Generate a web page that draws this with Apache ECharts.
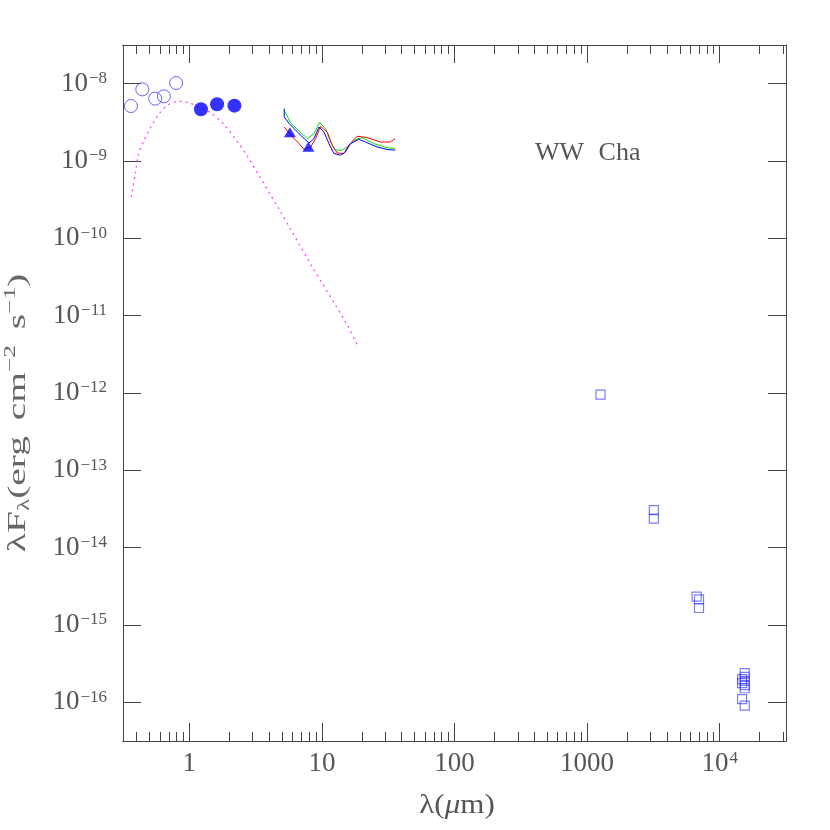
<!DOCTYPE html>
<html><head><meta charset="utf-8">
<script src="https://cdn.jsdelivr.net/npm/echarts@6/dist/echarts.min.js"></script>
<style>html,body{margin:0;padding:0;background:#fff}#c{width:830px;height:830px}</style>
</head><body><div id="c"></div>
<script>
// tick values / labels
const xMajorTicks = [1, 10, 100, 1000, 10000];
const xMinorTicks = [0.4, 0.5, 0.6, 0.7, 0.8, 0.9,
  2, 3, 4, 5, 6, 7, 8, 9,
  20, 30, 40, 50, 60, 70, 80, 90,
  200, 300, 400, 500, 600, 700, 800, 900,
  2000, 3000, 4000, 5000, 6000, 7000, 8000, 9000,
  20000, 30000];
const yMajorTicks = [1e-16, 1e-15, 1e-14, 1e-13, 1e-12, 1e-11, 1e-10, 1e-9, 1e-8];

// optical photometry (open circles)
const optWave = [0.363, 0.442, 0.553, 0.643, 0.795];
const optFlux = [5.14e-9, 8.44e-9, 6.40e-9, 6.86e-9, 1.02e-8];
// near-IR photometry (filled circles)
const nirWave = [1.224, 1.62, 2.19];
const nirFlux = [4.66e-9, 5.41e-9, 5.20e-9];
// IRAC (triangles)
const iracWave = [5.74, 7.91];
const iracFlux = [2.36e-9, 1.53e-9];
// mm / cm (squares)
const mmWave = [1263, 3187, 3187, 6699, 6982, 6982, 15455, 15455, 14750, 15455, 14750, 15455, 15455, 14750, 15455];
const mmFlux = [9.5e-13, 3.05e-14, 2.37e-14, 2.33e-15, 2.15e-15, 1.66e-15, 2.39e-16, 2.14e-16, 2.0e-16, 1.90e-16, 1.77e-16, 1.67e-16, 1.52e-16, 1.10e-16, 9.05e-17];
// photosphere model (dotted)
const modelWave = [0.365, 0.392, 0.412, 0.450, 0.507, 0.582, 0.681, 0.823, 0.962, 1.20, 1.43, 1.79, 2.32, 2.71, 4.79, 8.47, 15.2, 18.4];
const modelFlux = [3.41e-10, 6.97e-10, 1.19e-9, 1.75e-9, 2.65e-9, 3.90e-9, 5.25e-9, 5.91e-9, 5.74e-9, 4.94e-9, 4.26e-9, 3.08e-9, 1.75e-9, 1.19e-9, 2.32e-10, 4.26e-11, 8.1e-12, 4.26e-12];
// IRS spectra
const blueWave = [5.20, 5.20, 5.67, 6.54, 7.34, 8.00, 8.72, 9.51, 10.37, 11.30, 12.32, 13.81, 15.06, 16.42, 18.98, 21.28, 26.04, 30.94, 35.72];
const blueFlux = [4.76e-9, 3.71e-9, 3.05e-9, 2.37e-9, 1.95e-9, 1.71e-9, 1.95e-9, 2.75e-9, 2.37e-9, 1.68e-9, 1.25e-9, 1.19e-9, 1.31e-9, 1.68e-9, 1.91e-9, 1.76e-9, 1.52e-9, 1.41e-9, 1.38e-9];
const redWave = [5.20, 6.00, 6.73, 7.34, 8.23, 8.97, 9.78, 10.98, 11.97, 13.05, 14.65, 15.97, 18.44, 21.91, 27.56, 32.77, 35.72];
const redFlux = [2.75e-9, 2.05e-9, 1.68e-9, 1.41e-9, 1.52e-9, 1.95e-9, 2.81e-9, 2.37e-9, 1.60e-9, 1.27e-9, 1.25e-9, 1.60e-9, 2.09e-9, 2.01e-9, 1.76e-9, 1.76e-9, 1.95e-9];
const greenWave = [5.20, 5.82, 6.73, 7.77, 8.72, 9.61, 10.66, 11.62, 12.67, 14.22, 15.51, 17.41, 20.10, 24.59, 30.94, 35.72];
const greenFlux = [4.52e-9, 3.10e-9, 2.44e-9, 1.95e-9, 2.26e-9, 3.14e-9, 2.63e-9, 1.76e-9, 1.38e-9, 1.38e-9, 1.52e-9, 1.85e-9, 2.01e-9, 1.68e-9, 1.49e-9, 1.45e-9];

const zip = (a, b) => a.map((v, i) => [v, b[i]]);

const AX = '#444';
const LBL = '#555';
const SERIF = "'Liberation Serif', 'DejaVu Serif', serif";
const X_MIN = Math.pow(10, -0.5), X_MAX = Math.pow(10, 4.5);
const Y_MIN = Math.pow(10, -16.5), Y_MAX = Math.pow(10, -7.5);

function xLabel(v) {
  const e = Math.round(Math.log10(v));
  if (e >= 4) return '10{sup|' + e + '}';
  return String(Math.round(Math.pow(10, e)));
}
function yLabel(v) {
  const e = Math.round(Math.log10(v));
  return '10{sup|' + (e < 0 ? '\u2212' + (-e) : e) + '}';
}
const labelRich = {
  sup: { fontFamily: SERIF, fontSize: 17, color: LBL, verticalAlign: 'top', lineHeight: 17, padding: [0, 0, 0, 1] }
};

function xAxisDef(pos, major, showLabel) {
  return {
    type: 'log', position: pos, min: X_MIN, max: X_MAX, logBase: 10,
    axisLine: { show: true, lineStyle: { color: AX, width: 1 } },
    axisTick: { show: true, inside: true, length: major ? 18 : 9, customValues: major ? xMajorTicks : xMinorTicks, lineStyle: { color: AX, width: 1 } },
    minorTick: { show: false },
    splitLine: { show: false },
    axisLabel: showLabel ? {
      show: true, customValues: xMajorTicks, formatter: xLabel, margin: 9,
      fontFamily: SERIF, fontSize: 27, color: LBL, lineHeight: 27, rich: labelRich
    } : { show: false }
  };
}
function yAxisDef(pos, showLabel) {
  return {
    type: 'log', position: pos, min: Y_MIN, max: Y_MAX, logBase: 10,
    axisLine: { show: true, lineStyle: { color: AX, width: 1 } },
    axisTick: { show: true, inside: true, length: 18, customValues: yMajorTicks, lineStyle: { color: AX, width: 1 } },
    minorTick: { show: false },
    splitLine: { show: false },
    axisLabel: showLabel ? {
      show: true, customValues: yMajorTicks, formatter: yLabel, margin: 16,
      fontFamily: SERIF, fontSize: 27, color: LBL, lineHeight: 27, rich: labelRich
    } : { show: false }
  };
}

const chart = echarts.init(document.getElementById('c'), null, { renderer: 'canvas' });
chart.setOption({
  animation: false,
  backgroundColor: '#fff',
  grid: { left: 123, right: 44, top: 45, bottom: 89, containLabel: false },
  xAxis: [
    xAxisDef('bottom', true, true),
    xAxisDef('bottom', false, false),
    xAxisDef('top', true, false),
    xAxisDef('top', false, false)
  ],
  yAxis: [
    yAxisDef('left', true),
    yAxisDef('right', false)
  ],
  graphic: [
    {
      type: 'text', x: 535, y: 153,
      style: {
        text: '{a|WW }{b|Cha}', textVerticalAlign: 'middle', textAlign: 'left',
        rich: {
          a: { fontFamily: SERIF, fontSize: 26, fill: LBL },
          b: { fontFamily: SERIF, fontSize: 26, fill: LBL, padding: [0, 0, 0, 8] }
        }
      }
    },
    {
      type: 'text', x: 457, y: 806, scaleX: 1.15,
      style: {
        text: '{a|\u03bb(}{i|\u03bc}{a|m)}', textAlign: 'center', textVerticalAlign: 'middle',
        rich: {
          a: { fontFamily: SERIF, fontSize: 27, fill: LBL },
          i: { fontFamily: SERIF, fontSize: 27, fontStyle: 'italic', fill: LBL }
        }
      }
    },
    {
      type: 'text', x: 18, y: 413, rotation: Math.PI / 2, scaleX: 1.58,
      style: {
        text: '{a|\u03bbF}{sub|\u03bb}{a|(erg}{sp|cm}{sup|\u22122}{sp|s}{sup|\u22121}{a|)}',
        textAlign: 'center', textVerticalAlign: 'middle',
        rich: {
          a: { fontFamily: SERIF, fontSize: 25, fill: '#666', lineHeight: 30 },
          sp: { fontFamily: SERIF, fontSize: 25, fill: '#666', lineHeight: 30, padding: [0, 0, 0, 10] },
          sub: { fontFamily: SERIF, fontSize: 16, fill: '#666', verticalAlign: 'bottom', lineHeight: 16 },
          sup: { fontFamily: SERIF, fontSize: 16, fill: '#666', verticalAlign: 'top', lineHeight: 16 }
        }
      }
    }
  ],
  series: [
    {
      name: 'model', type: 'line', data: zip(modelWave, modelFlux), showSymbol: false, smooth: 0.3,
      lineStyle: { color: '#ff44ff', width: 1.3, type: [2, 4] }, z: 1
    },
    { name: 'IRS blue', type: 'line', data: zip(blueWave, blueFlux), showSymbol: false, lineStyle: { color: '#0000ff', width: 1 }, z: 3 },
    { name: 'IRS green', type: 'line', data: zip(greenWave, greenFlux), showSymbol: false, lineStyle: { color: '#00e000', width: 1 }, z: 2 },
    { name: 'IRS red', type: 'line', data: zip(redWave, redFlux), showSymbol: false, lineStyle: { color: '#ff0000', width: 1 }, z: 2 },
    {
      name: 'optical', type: 'scatter', data: zip(optWave, optFlux), symbol: 'circle', symbolSize: 13,
      itemStyle: { color: 'rgba(0,0,0,0)', borderColor: '#4040ff', borderWidth: 1 }, z: 4
    },
    {
      name: 'nir', type: 'scatter', data: zip(nirWave, nirFlux), symbol: 'circle', symbolSize: 14,
      itemStyle: { color: '#0000ff' }, z: 4
    },
    {
      name: 'irac', type: 'scatter', data: zip(iracWave, iracFlux), symbol: 'triangle', symbolSize: [12, 10],
      itemStyle: { color: '#0000ff' }, z: 5
    },
    {
      name: 'mm', type: 'scatter', data: zip(mmWave, mmFlux), symbol: 'rect', symbolSize: 9,
      itemStyle: { color: 'rgba(0,0,0,0)', borderColor: 'rgba(50,50,255,0.8)', borderWidth: 1.2 }, z: 4
    }
  ]
});
</script>
</body></html>
